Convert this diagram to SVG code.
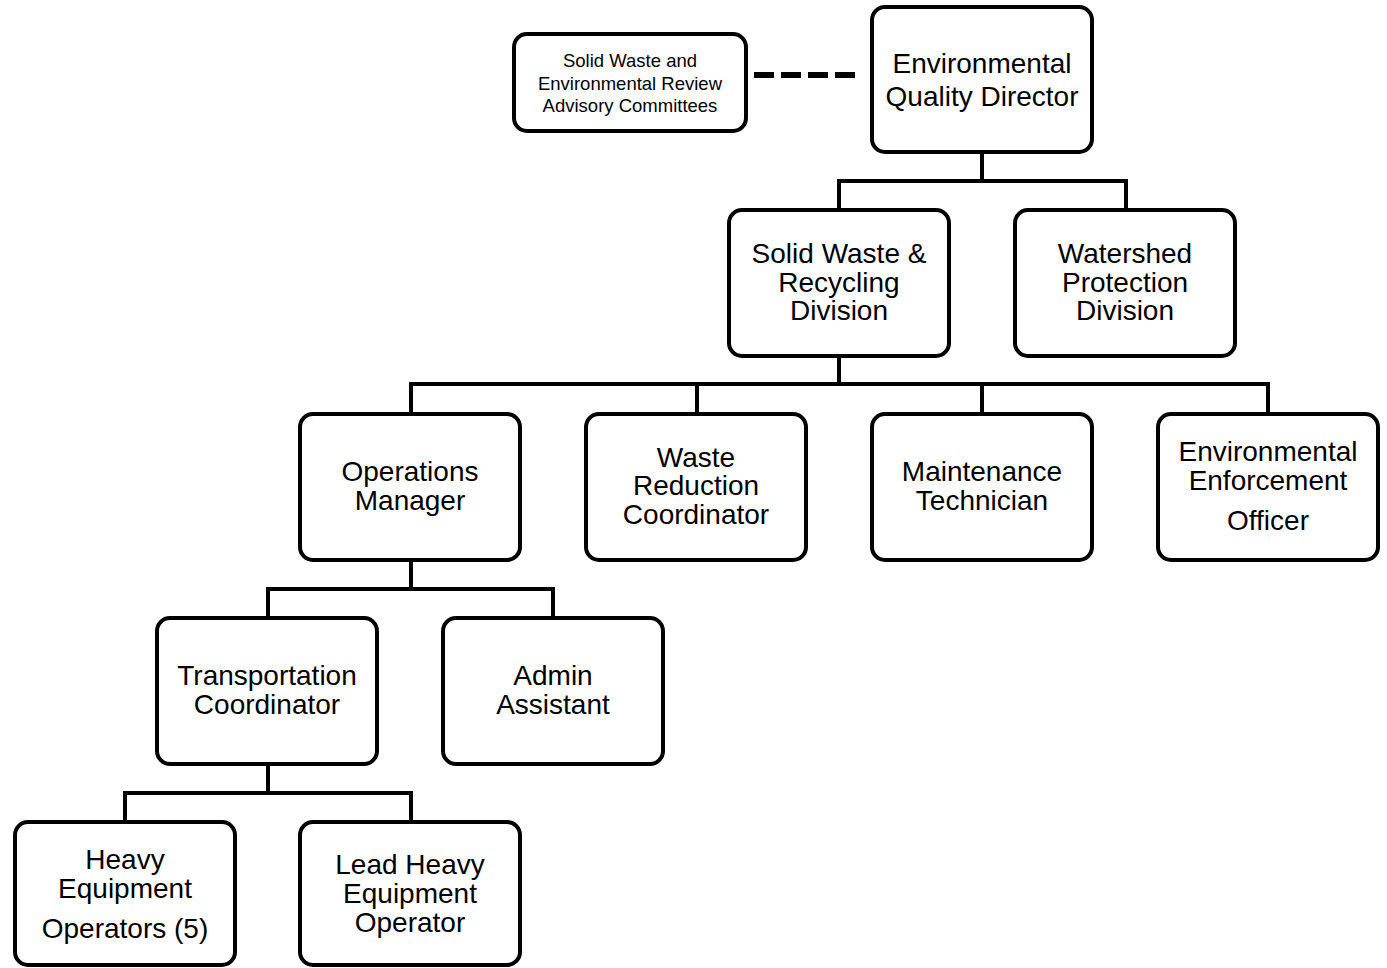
<svg xmlns="http://www.w3.org/2000/svg" width="1387" height="968" viewBox="0 0 1387 968">
<style>
.box{fill:#fff;stroke:#000;stroke-width:4}
.t{font-family:"Liberation Sans",Arial,sans-serif;font-size:28px;text-anchor:middle;fill:#000}
.s{font-family:"Liberation Sans",Arial,sans-serif;font-size:18.5px;text-anchor:middle;fill:#000}
.c{fill:none;stroke:#000;stroke-width:4}
</style>
<rect width="1387" height="968" fill="#fff"/>
<g id="connectors">
<path class="c" d="M982,152V181M839,181H1126M839,179V210M1126,179V210"/>
<path class="c" d="M839,356V384M409,384H1270M411,382V414M697,382V414M982,382V414M1268,382V414"/>
<path class="c" d="M411,560V589M266,589H555M268,587V618M553,587V618"/>
<path class="c" d="M268,764V793M123,793H413M125,791V822M411,791V822"/>
<path d="M754,75H855" fill="none" stroke="#000" stroke-width="6" stroke-dasharray="20,7"/>
</g>
<g id="committee"><rect class="box" x="514" y="34" width="232" height="97" rx="13"/>
<text class="s" x="630" y="67">Solid Waste and</text><text class="s" x="630" y="90">Environmental Review</text><text class="s" x="630" y="112">Advisory Committees</text></g>
<g id="director"><rect class="box" x="872" y="7" width="220" height="145" rx="13"/>
<text class="t" x="982" y="73">Environmental</text><text class="t" x="982" y="106">Quality Director</text></g>
<g id="solidwaste"><rect class="box" x="729" y="210" width="220" height="146" rx="13"/>
<text class="t" x="839" y="263">Solid Waste &amp;</text><text class="t" x="839" y="292">Recycling</text><text class="t" x="839" y="320">Division</text></g>
<g id="watershed"><rect class="box" x="1015" y="210" width="220" height="146" rx="13"/>
<text class="t" x="1125" y="263">Watershed</text><text class="t" x="1125" y="292">Protection</text><text class="t" x="1125" y="320">Division</text></g>
<g id="ops"><rect class="box" x="300" y="414" width="220" height="146" rx="13"/>
<text class="t" x="410" y="481">Operations</text><text class="t" x="410" y="510">Manager</text></g>
<g id="wastered"><rect class="box" x="586" y="414" width="220" height="146" rx="13"/>
<text class="t" x="696" y="467">Waste</text><text class="t" x="696" y="495">Reduction</text><text class="t" x="696" y="524">Coordinator</text></g>
<g id="maint"><rect class="box" x="872" y="414" width="220" height="146" rx="13"/>
<text class="t" x="982" y="481">Maintenance</text><text class="t" x="982" y="510">Technician</text></g>
<g id="enforce"><rect class="box" x="1158" y="414" width="220" height="146" rx="13"/>
<text class="t" x="1268" y="461">Environmental</text><text class="t" x="1268" y="490">Enforcement</text><text class="t" x="1268" y="530">Officer</text></g>
<g id="transport"><rect class="box" x="157" y="618" width="220" height="146" rx="13"/>
<text class="t" x="267" y="685">Transportation</text><text class="t" x="267" y="714">Coordinator</text></g>
<g id="admin"><rect class="box" x="443" y="618" width="220" height="146" rx="13"/>
<text class="t" x="553" y="685">Admin</text><text class="t" x="553" y="714">Assistant</text></g>
<g id="heavy"><rect class="box" x="15" y="822" width="220" height="143" rx="13"/>
<text class="t" x="125" y="869">Heavy</text><text class="t" x="125" y="898">Equipment</text><text class="t" x="125" y="938">Operators (5)</text></g>
<g id="lead"><rect class="box" x="300" y="822" width="220" height="143" rx="13"/>
<text class="t" x="410" y="874">Lead Heavy</text><text class="t" x="410" y="903">Equipment</text><text class="t" x="410" y="932">Operator</text></g>
</svg>
